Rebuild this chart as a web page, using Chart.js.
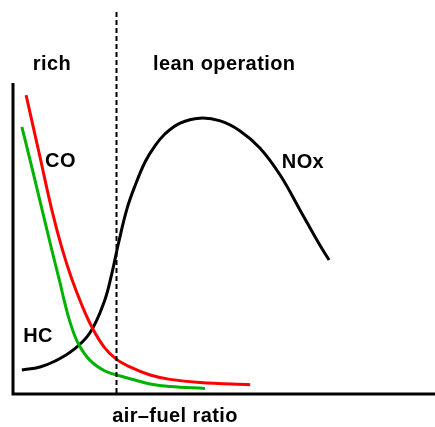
<!DOCTYPE html>
<html>
<head>
<meta charset="utf-8">
<script src="https://cdn.jsdelivr.net/npm/chart.js@4/dist/chart.umd.min.js"></script>
<style>
  html, body { margin: 0; padding: 0; background: #fff; }
  canvas { display: block; }
</style>
</head>
<body>
<canvas id="emissionsChart" width="435" height="427"></canvas>
<script>
// air-fuel ratio (0..10) vs concentration (0..100)
var coX  = [0.31, 0.64, 0.92, 1.16, 1.40, 1.64, 1.87, 2.16, 2.44, 2.77, 3.25, 3.72, 4.43, 5.62];
var coY  = [96.1, 76.2, 59.2, 46.9, 36.7, 28.3, 21.5, 15.1, 11.3, 8.7, 6.1, 4.7, 3.7, 3.0];

var hcX  = [0.21, 0.45, 0.69, 0.92, 1.11, 1.21, 1.35, 1.54, 1.82, 2.18, 2.54, 2.89, 3.25, 3.72, 4.55];
var hcY  = [85.9, 72.7, 59.2, 46.3, 36.0, 30.2, 23.2, 16.4, 10.9, 7.4, 5.8, 4.5, 3.2, 2.4, 1.8];

var noxX = [0.21, 0.64, 1.00, 1.42, 1.82, 2.16, 2.35, 2.49, 2.70, 2.89, 3.13, 3.36, 3.60, 3.96, 4.43, 4.91, 5.38, 5.85, 6.33, 6.80, 7.27, 7.49];
var noxY = [7.7, 8.7, 10.6, 14.1, 19.6, 29.6, 39.2, 47.9, 59.5, 66.9, 74.6, 79.7, 83.6, 87.1, 88.7, 87.8, 84.6, 79.1, 70.4, 59.2, 47.9, 43.1];

var stoichX = 2.44;   // boundary between rich and lean

var labelText = ['rich', 'lean operation', 'CO', 'NOx', 'HC', 'air\u2013fuel ratio'];
var labelX    = [0.47, 3.32, 0.76, 6.37, 0.24, 2.35];
var labelY    = [104.2, 104.2, 73.0, 72.7, 16.7, -9.0];

function pts(xs, ys){
    return xs.map(function(x, i){ return {x: x, y: ys[i]}; });
}

var decorations = {
    id: 'decorations',
    afterDatasetsDraw: function(chart){
        var ctx = chart.ctx, a = chart.chartArea;
        var sx = chart.scales.x, sy = chart.scales.y;
        ctx.save();
        // axes
        ctx.strokeStyle = '#000';
        ctx.lineWidth = 3;
        ctx.beginPath();
        ctx.moveTo(a.left, a.top);
        ctx.lineTo(a.left, a.bottom);
        ctx.lineTo(a.right, a.bottom);
        ctx.stroke();
        // dashed rich/lean divider
        var dx = Math.round(sx.getPixelForValue(stoichX)) + 0.5;
        ctx.lineWidth = 2;
        ctx.setLineDash([5, 3]);
        ctx.beginPath();
        ctx.moveTo(dx, 12);
        ctx.lineTo(dx, a.bottom);
        ctx.stroke();
        ctx.setLineDash([]);
        // labels
        ctx.fillStyle = '#000';
        ctx.font = 'bold 20px "Liberation Sans", Arial, sans-serif';
        ctx.letterSpacing = '0.4px';
        ctx.textAlign = 'left';
        ctx.textBaseline = 'alphabetic';
        labelText.forEach(function(t, i){
            ctx.fillText(t, sx.getPixelForValue(labelX[i]), sy.getPixelForValue(labelY[i]));
        });
        ctx.restore();
    }
};

new Chart(document.getElementById('emissionsChart'), {
    type: 'scatter',
    data: {
        datasets: [
            { label: 'CO', data: pts(coX, coY), borderColor: '#ff0000' },
            { label: 'HC', data: pts(hcX, hcY), borderColor: '#00b300' },
            { label: 'NOx', data: pts(noxX, noxY), borderColor: '#000000' }
        ]
    },
    options: {
        responsive: false,
        animation: false,
        layout: { padding: { left: 13, top: 83, right: 0, bottom: 33 } },
        elements: {
            line: { borderWidth: 3, tension: 0.4, fill: false },
            point: { radius: 0, hoverRadius: 0 }
        },
        datasets: { scatter: { showLine: true, clip: false } },
        plugins: { legend: { display: false }, tooltip: { enabled: false } },
        scales: {
            x: { type: 'linear', display: false, min: 0, max: 10 },
            y: { type: 'linear', display: false, min: 0, max: 100 }
        }
    },
    plugins: [decorations]
});
</script>
</body>
</html>
